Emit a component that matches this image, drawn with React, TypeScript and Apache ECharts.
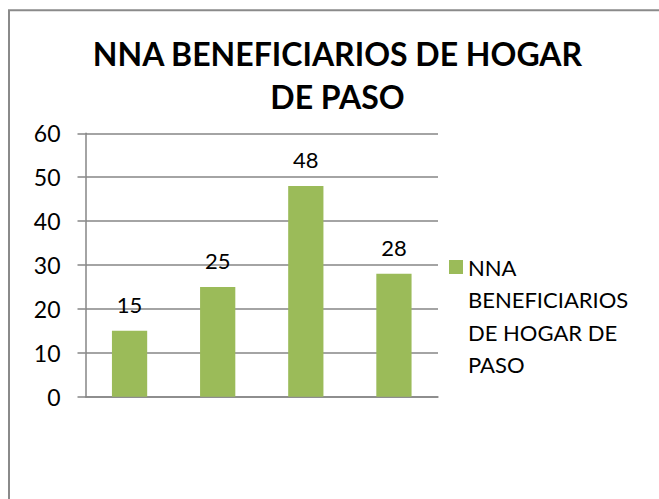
import React, { useEffect, useRef } from "react";
import * as echarts from "echarts";

const title = "NNA BENEFICIARIOS DE HOGAR\nDE PASO";
const seriesName = "NNA BENEFICIARIOS DE HOGAR DE PASO";
const legendLines = ["NNA", "BENEFICIARIOS", "DE HOGAR DE", "PASO"];
const categories = ["1", "2", "3", "4"];
const values = [15, 25, 48, 28];
const yTicks = { min: 0, max: 60, interval: 10 };

const FONT = "Lato";
const GRAY = "#868686";

export default function App() {
  const ref = useRef<HTMLDivElement>(null);
  useEffect(() => {
    if (!ref.current) return;
    const chart = echarts.init(ref.current, undefined, { renderer: "svg" });
    const L = 32.5;
    chart.setOption({
      animation: false,
      backgroundColor: "#ffffff",
      textStyle: { fontFamily: FONT },
      title: {
        text: title,
        left: 337.5,
        top: 32,
        padding: 0,
        textAlign: "center",
        textStyle: {
          fontFamily: FONT,
          fontWeight: "bold",
          fontSize: 32,
          lineHeight: 43,
          color: "#000",
        },
      },
      graphic: [
        {
          type: "rect",
          shape: { x: 9, y: 10.3, width: 800, height: 700 },
          style: { fill: "none", stroke: "#8a8a8a", lineWidth: 2 },
          silent: true,
        },
      ],
      legend: {
        show: true,
        left: 449,
        top: 267 - (7 * L) / 2,
        padding: 0,
        orient: "vertical",
        icon: "rect",
        itemWidth: 14,
        itemHeight: 14,
        formatter: () => "\n\n\n" + legendLines.join("\n"),
        textStyle: {
          fontFamily: FONT,
          fontSize: 22,
          lineHeight: L,
          color: "#000",
        },
      },
      grid: { left: 85.5, right: 221, top: 133.3, bottom: 102.3, containLabel: false },
      xAxis: {
        type: "category",
        data: categories,
        axisLine: { show: true, lineStyle: { color: GRAY, width: 1.5 } },
        axisTick: { show: false },
        axisLabel: { show: false },
      },
      yAxis: {
        type: "value",
        min: yTicks.min,
        max: yTicks.max,
        interval: yTicks.interval,
        axisLine: { show: true, lineStyle: { color: GRAY, width: 1.5 } },
        axisTick: { show: true, length: 8, inside: false, lineStyle: { color: GRAY, width: 1.5 } },
        splitLine: { show: true, lineStyle: { color: GRAY, width: 1.5 } },
        axisLabel: { fontFamily: FONT, fontSize: 23, color: "#000", margin: 25 },
      },
      series: [
        {
          name: seriesName,
          type: "bar",
          data: values,
          barWidth: "40%",
          itemStyle: { color: "#9BBB59" },
          label: {
            show: true,
            position: "top",
            distance: 15,
            fontFamily: FONT,
            fontSize: 22,
            color: "#000",
          },
        },
      ],
    });
    return () => chart.dispose();
  }, []);
  return (
    <div
      ref={ref}
      style={{ position: "absolute", left: 0, top: 0, width: 659, height: 499, background: "#fff" }}
    />
  );
}
